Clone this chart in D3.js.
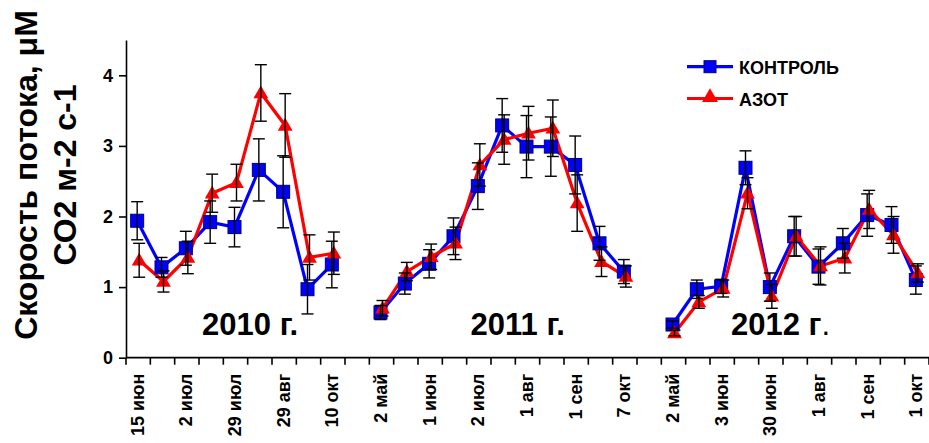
<!DOCTYPE html>
<html>
<head>
<meta charset="utf-8">
<script src="https://cdn.jsdelivr.net/npm/d3@7"></script>
<style>
  html, body { margin: 0; padding: 0; background: #fff; }
  svg { display: block; font-family: Arial, "Liberation Sans", sans-serif; }
</style>
</head>
<body>
<svg id="chart" width="929" height="443"></svg>
<script>
// ---- data ----
const yearLabels = ["2010 г.", "2011 г.", "2012 г."];
const dates2010 = ["15 июн", "", "2 июл", "", "29 июл", "", "29 авг", "", "10 окт"];
const dates2011 = ["2 май", "", "1 июн", "", "2 июл", "", "1 авг", "", "1 сен", "", "7 окт"];
const dates2012 = ["2 май", "", "3 июн", "", "30 июн", "", "1 авг", "", "1 сен", "", "1 окт"];

const control2010 = [1.94, 1.28, 1.55, 1.92, 1.85, 2.66, 2.35, 0.97, 1.32];
const controlErr2010 = [0.27, 0.14, 0.24, 0.30, 0.28, 0.44, 0.51, 0.35, 0.33];
const nitrogen2010 = [1.38, 1.08, 1.42, 2.33, 2.48, 3.75, 3.29, 1.42, 1.48];
const nitrogenErr2010 = [0.24, 0.15, 0.23, 0.27, 0.26, 0.40, 0.45, 0.32, 0.30];

const control2011 = [0.64, 1.05, 1.33, 1.72, 2.43, 3.29, 2.99, 2.99, 2.73, 1.62, 1.22];
const controlErr2011 = [0.10, 0.15, 0.20, 0.26, 0.33, 0.38, 0.44, 0.42, 0.41, 0.24, 0.17];
const nitrogen2011 = [0.70, 1.22, 1.43, 1.62, 2.73, 3.09, 3.18, 3.25, 2.19, 1.36, 1.15];
const nitrogenErr2011 = [0.11, 0.13, 0.18, 0.23, 0.30, 0.35, 0.38, 0.40, 0.40, 0.21, 0.15];

const control2012 = [0.47, 0.97, 1.01, 2.69, 1.00, 1.72, 1.29, 1.62, 2.02, 1.88, 1.10];
const controlErr2012 = [0.05, 0.13, 0.10, 0.24, 0.20, 0.28, 0.25, 0.21, 0.30, 0.26, 0.20];
const nitrogen2012 = [0.35, 0.79, 0.98, 2.33, 0.87, 1.72, 1.30, 1.41, 2.10, 1.74, 1.20];
const nitrogenErr2012 = [0.04, 0.09, 0.12, 0.22, 0.17, 0.28, 0.27, 0.21, 0.27, 0.26, 0.13];

const seriesNames = ["КОНТРОЛЬ", "АЗОТ"];
const yTicks = [0, 1, 2, 3, 4];
const yTitle = ["Скорость потока, μМ", "СО2 м-2 с-1"];

// ---- build slots (one gap slot between years) ----
const yearsData = [
  { label: yearLabels[0], dates: dates2010, c: control2010, ce: controlErr2010, n: nitrogen2010, ne: nitrogenErr2010 },
  { label: yearLabels[1], dates: dates2011, c: control2011, ce: controlErr2011, n: nitrogen2011, ne: nitrogenErr2011 },
  { label: yearLabels[2], dates: dates2012, c: control2012, ce: controlErr2012, n: nitrogen2012, ne: nitrogenErr2012 }
];
let slot = 0;
const slotLabels = [];
yearsData.forEach((yd, yi) => {
  yd.points = yd.dates.map((d, i) => {
    slotLabels.push(d);
    return { slot: slot++, date: d, c: yd.c[i], ce: yd.ce[i], n: yd.n[i], ne: yd.ne[i] };
  });
  if (yi < yearsData.length - 1) { slotLabels.push(""); slot++; }
});
const nSlots = slot;

// ---- layout ----
const mLeft = 126, mRight = 929, mTop = 40, mBottom = 357.7;
const svg = d3.select("#chart");

const x = d3.scaleBand().domain(d3.range(nSlots)).range([mLeft, mRight]).padding(0);
const y = d3.scaleLinear().domain([0, 4.5]).range([mBottom, mTop]);
const cx = i => x(i) + x.bandwidth() / 2 - 1;
const offN = 2;

const BLUE = "#0000ff", RED = "#ff0000";

// Axes
const yAxis = d3.axisLeft(y).tickValues(yTicks).tickFormat(d3.format("d")).tickSize(7).tickSizeOuter(0).tickPadding(6);
const gy = svg.append("g").attr("transform", `translate(${mLeft},0)`).call(yAxis);
gy.select(".domain").attr("stroke", "#000").attr("stroke-width", 1.6);
gy.selectAll(".tick line").attr("stroke", "#000").attr("stroke-width", 1.6);
gy.selectAll(".tick text").attr("font-size", 18).attr("font-weight", "bold").attr("fill", "#000")
  .attr("font-family", "Arial, 'Liberation Sans', sans-serif");

// x axis line
svg.append("line").attr("x1", mLeft).attr("x2", mRight).attr("y1", y(0)).attr("y2", y(0))
  .attr("stroke", "#000").attr("stroke-width", 1.8);
// tick marks at band boundaries
const bounds = d3.range(nSlots + 1).map(i => i < nSlots ? x(i) : x(nSlots - 1) + x.bandwidth());
svg.append("g").selectAll("line").data(bounds).join("line")
  .attr("x1", d => d).attr("x2", d => d).attr("y1", y(0)).attr("y2", y(0) + 7)
  .attr("stroke", "#000").attr("stroke-width", 1.6);
// date labels
svg.append("g").selectAll("text").data(slotLabels.map((l, i) => ({ l, i })).filter(d => d.l))
  .join("text")
  .attr("transform", d => `translate(${cx(d.i)},${y(0) + 16}) rotate(-90)`)
  .attr("text-anchor", "end").attr("dy", "0.36em")
  .attr("font-size", 18).attr("font-weight", "bold").attr("fill", "#000")
  .text(d => d.l);

// y title
const gt = svg.append("g").attr("transform", "translate(0,175)");
gt.append("text").attr("transform", "translate(37,0) rotate(-90)").attr("text-anchor", "middle")
  .attr("font-size", 32).attr("font-weight", "bold").text(yTitle[0]);
gt.append("text").attr("transform", "translate(76,0) rotate(-90)").attr("text-anchor", "middle")
  .attr("font-size", 32).attr("font-weight", "bold").text(yTitle[1]);

// year labels (the period of the last one is in regular weight, as in the original)
const yearPos = [5.1, 16.1, 26.9];
yearsData.forEach((yd, i) => {
  const t = svg.append("text").attr("x", mLeft + x.bandwidth() * yearPos[i]).attr("y", 335)
    .attr("text-anchor", "middle").attr("font-size", 31).attr("font-weight", "bold");
  if (i === yearsData.length - 1) {
    t.append("tspan").text(yd.label.slice(0, -1));
    t.append("tspan").attr("font-weight", "normal").text(yd.label.slice(-1));
  } else {
    t.text(yd.label);
  }
});

// lines
const lineC = d3.line().x(d => cx(d.slot)).y(d => y(d.c));
const lineN = d3.line().x(d => cx(d.slot) + offN).y(d => y(d.n));
const tri = d3.symbol().type(d3.symbolTriangle).size(95);
const gLines = svg.append("g");
yearsData.forEach(yd => {
  gLines.append("path").attr("d", lineC(yd.points)).attr("fill", "none").attr("stroke", BLUE).attr("stroke-width", 3.2);
});
yearsData.forEach(yd => {
  gLines.append("path").attr("d", lineN(yd.points)).attr("fill", "none").attr("stroke", RED).attr("stroke-width", 3.2);
});
const allPts = yearsData.flatMap(yd => yd.points);
// markers
svg.append("g").selectAll("rect").data(allPts).join("rect")
  .attr("x", d => cx(d.slot) - 6.5).attr("y", d => y(d.c) - 6.5).attr("width", 13).attr("height", 13)
  .attr("fill", BLUE).attr("stroke", "#00007a").attr("stroke-width", 1);
svg.append("g").selectAll("path").data(allPts).join("path")
  .attr("d", tri).attr("transform", d => `translate(${cx(d.slot) + offN},${y(d.n) + 1})`)
  .attr("fill", RED);

// error bars
function errBars(g, xs, v, e) {
  g.append("line").attr("x1", xs).attr("x2", xs).attr("y1", y(v - e)).attr("y2", y(v + e));
  g.append("line").attr("x1", xs - 6).attr("x2", xs + 6).attr("y1", y(v - e)).attr("y2", y(v - e));
  g.append("line").attr("x1", xs - 6).attr("x2", xs + 6).attr("y1", y(v + e)).attr("y2", y(v + e));
}
const gErr = svg.append("g").attr("stroke", "#000").attr("stroke-width", 1.4);
allPts.forEach(d => {
  errBars(gErr, cx(d.slot), d.c, d.ce);
  errBars(gErr, cx(d.slot) + offN, d.n, d.ne);
});

// legend
const lg = svg.append("g");
const legendRows = [{ name: seriesNames[0], color: BLUE, y: 66.7 }, { name: seriesNames[1], color: RED, y: 98.5 }];
legendRows.forEach((r, i) => {
  lg.append("line").attr("x1", 687).attr("x2", 733).attr("y1", r.y).attr("y2", r.y).attr("stroke", r.color).attr("stroke-width", 3.2);
  if (i === 0) {
    lg.append("rect").attr("x", 710 - 6).attr("y", r.y - 6).attr("width", 12).attr("height", 12)
      .attr("fill", BLUE).attr("stroke", "#00007a").attr("stroke-width", 1);
  } else {
    lg.append("path").attr("d", d3.symbol().type(d3.symbolTriangle).size(110)).attr("transform", `translate(710,${r.y - 1})`).attr("fill", RED);
  }
  lg.append("text").attr("x", 739).attr("y", r.y + 7).attr("font-size", 18).attr("font-weight", "bold").text(r.name);
});
</script>
</body>
</html>
